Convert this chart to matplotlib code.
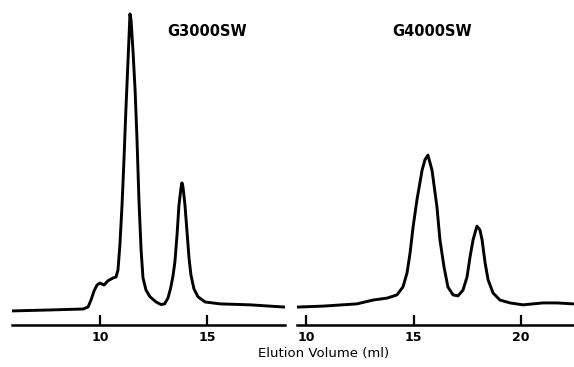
import matplotlib
matplotlib.use("Agg")
import matplotlib.pyplot as plt

# ---- data (elution volume in ml, detector signal in arbitrary units) ----
g3000_volume = [5.89, 7.66, 9.21, 9.44, 9.58, 9.72, 9.86, 10.00, 10.19, 10.37,
                10.61, 10.75, 10.84, 10.93, 11.03, 11.12, 11.21, 11.31, 11.37, 11.40,
                11.45, 11.54, 11.64, 11.73, 11.82, 11.92, 12.01, 12.15, 12.34, 12.62,
                12.85, 13.02, 13.18, 13.30, 13.41, 13.50, 13.60, 13.69, 13.79, 13.83, 13.88,
                13.97, 14.07, 14.16, 14.25, 14.39, 14.58, 14.91, 15.61, 17.01, 18.64]
g3000_signal = [4.4, 4.7, 5.0, 5.6, 7.8, 10.6, 12.5, 13.1, 12.5, 13.8,
                14.7, 15.0, 17.2, 25.0, 37.5, 51.6, 67.2, 82.8, 92.2, 97.2,
                95.3, 85.9, 73.4, 57.8, 39.1, 23.4, 14.7, 10.9, 8.8, 7.2,
                6.4, 6.6, 8.5, 11.5, 15.3, 19.7, 28.1, 37.5, 43.1, 44.4, 43.1,
                37.5, 28.8, 20.9, 15.6, 11.3, 8.8, 7.2, 6.6, 6.3, 5.6]

g4000_volume = [9.58, 10.79, 12.37, 13.12, 13.77, 14.23, 14.51, 14.70, 14.84, 14.98,
                15.16, 15.40, 15.53, 15.67, 15.86, 16.09, 16.23, 16.42, 16.60, 16.84,
                17.07, 17.30, 17.49, 17.63, 17.77, 17.95, 18.09, 18.19, 18.33, 18.47,
                18.70, 19.02, 19.49, 20.09, 21.02, 21.67, 22.42]
g4000_signal = [5.6, 5.9, 6.6, 7.8, 8.4, 9.4, 11.9, 16.3, 22.5, 30.6,
                39.1, 48.4, 51.6, 53.1, 48.4, 36.9, 26.6, 18.1, 11.9, 9.4,
                9.1, 10.9, 15.0, 21.3, 26.6, 30.9, 29.7, 26.6, 19.4, 14.1,
                10.0, 7.8, 6.9, 6.3, 6.9, 6.9, 6.6]

g3000_ticks = [10, 15]
g4000_ticks = [10, 15, 20]
titles = ["G3000SW", "G4000SW"]
xlabel = "Elution Volume (ml)"

# ---- figure ----
fig = plt.figure(figsize=(5.74, 3.67), dpi=100)
fig.patch.set_facecolor("white")

bottom = 1 - 325 / 367
height = 320 / 367
ax1 = fig.add_axes([12 / 574, bottom, 273 / 574, height])
ax2 = fig.add_axes([297 / 574, bottom, 277 / 574, height])

panels = [
    (ax1, g3000_volume, g3000_signal, g3000_ticks, (5.888, 18.645), titles[0], 207),
    (ax2, g4000_volume, g4000_signal, g4000_ticks, (9.581, 22.465), titles[1], 432),
]

for ax, xv, yv, ticks, xlim, title, tx in panels:
    ax.plot(xv, yv, color="black", lw=2.1, solid_joinstyle="round",
            solid_capstyle="round")
    ax.set_xlim(*xlim)
    ax.set_ylim(0, 100)
    for s in ["top", "left", "right"]:
        ax.spines[s].set_visible(False)
    ax.spines["bottom"].set_linewidth(1.8)
    ax.set_yticks([])
    ax.set_xticks(ticks)
    ax.set_xticklabels([str(t) for t in ticks], fontsize=9, fontweight="bold")
    ax.tick_params(axis="x", direction="in", length=7, width=1.6, pad=4)
    ax.set_facecolor("none")
    fig.text(tx / 574, 1 - 32 / 367, title, ha="center", va="center",
             fontsize=10.5, fontweight="bold")

fig.text(324 / 574, 1 - 354 / 367, xlabel, ha="center", va="center", fontsize=9.5)

fig.savefig("out.png", dpi=100, facecolor="white")
